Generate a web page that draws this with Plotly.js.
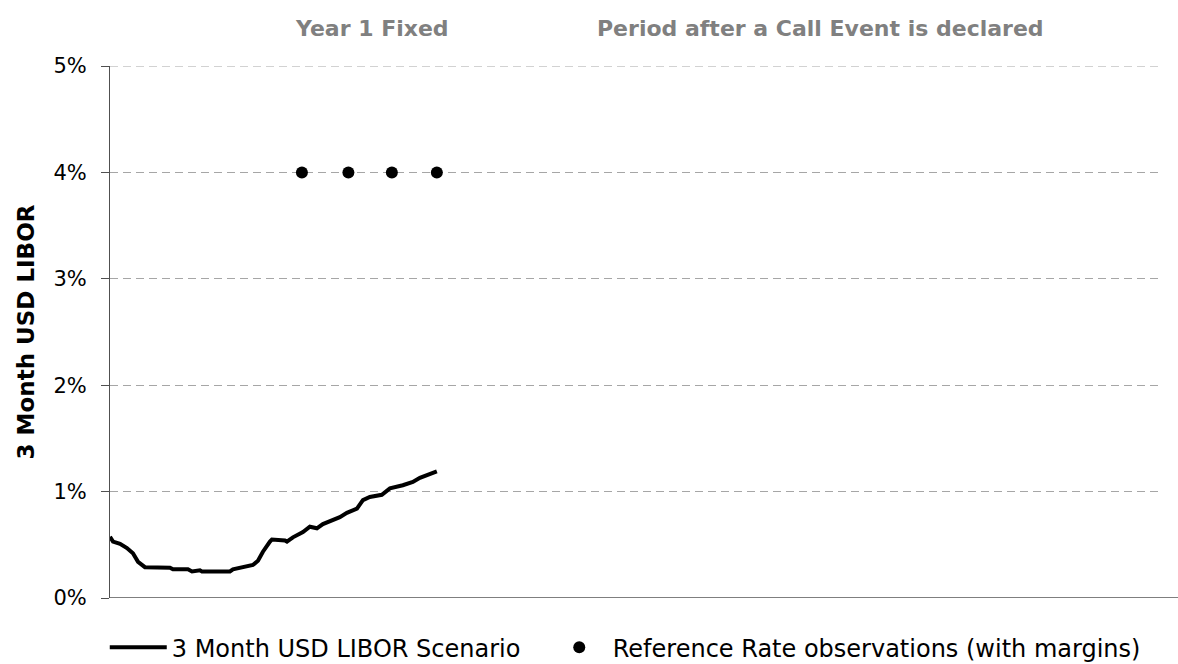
<!DOCTYPE html>
<html>
<head>
<meta charset="utf-8">
<script src="https://cdn.plot.ly/plotly-3.0.1.min.js"></script>
<style>html,body{margin:0;padding:0;background:#fff;}#chart{width:1178px;height:664px;}</style>
</head>
<body>
<div id="chart"></div>
<script>
// Scenario line: month index and 3M USD LIBOR (%)
const liborMonths = [0, 0.2, 0.67, 1.13, 1.53, 1.87, 2.33, 4.0, 4.2, 5.2, 5.47, 6.0, 6.13, 8.0, 8.2, 8.87, 9.53, 9.87, 10.2, 10.67, 10.8, 11.67, 11.8, 12.2, 12.87, 13.33, 13.8, 14.2, 14.87, 15.33, 15.8, 16.47, 16.87, 17.33, 18.13, 18.67, 19.53, 20.2, 20.67, 21.2, 21.8];
const liborValues = [0.576, 0.53, 0.51, 0.47, 0.42, 0.34, 0.29, 0.285, 0.27, 0.27, 0.25, 0.26, 0.25, 0.25, 0.27, 0.29, 0.31, 0.35, 0.435, 0.53, 0.55, 0.54, 0.53, 0.57, 0.62, 0.67, 0.655, 0.695, 0.73, 0.76, 0.80, 0.84, 0.92, 0.95, 0.97, 1.03, 1.06, 1.09, 1.13, 1.16, 1.19];

// Reference rate observations (with margins)
const obsMonths = [12.8, 15.9, 18.8, 21.8];
const obsValues = [4, 4, 4, 4];

const seriesNames = ["3 Month USD LIBOR Scenario", "Reference Rate observations (with margins)"];
const periodLabels = ["Year 1 Fixed", "Period after a Call Event is declared"];
const yTickVals = [0, 1, 2, 3, 4, 5];
const yTickText = ["0%", "1%", "2%", "3%", "4%", "5%"];
const yAxisTitle = "3 Month USD LIBOR";

const FONT = "DejaVu Sans, Liberation Sans, Arial, sans-serif";

const traces = [
  {
    x: liborMonths, y: liborValues, type: "scatter", mode: "lines",
    name: seriesNames[0], legendwidth: 369,
    line: {color: "#000000", width: 4},
    hoverinfo: "skip"
  },
  {
    x: obsMonths, y: obsValues, type: "scatter", mode: "markers",
    name: seriesNames[1], legendwidth: 540,
    marker: {color: "#000000", size: 12, symbol: "circle"},
    hoverinfo: "skip"
  }
];

const layout = {
  width: 1178, height: 664,
  paper_bgcolor: "#ffffff", plot_bgcolor: "#ffffff",
  margin: {l: 110, r: 20, t: 66, b: 66, autoexpand: false},
  font: {family: FONT, color: "#000000", size: 21},
  showlegend: true,
  xaxis: {
    range: [0, 69.9], showticklabels: false, ticks: "", showgrid: false,
    zeroline: false, showline: false, fixedrange: true
  },
  yaxis: {
    range: [0, 5], tickmode: "array", tickvals: yTickVals, ticktext: yTickText,
    ticks: "outside", ticklen: 8, tickcolor: "#505050", tickwidth: 1,
    ticklabelstandoff: 10,
    showline: true, linecolor: "#505050", linewidth: 1,
    showgrid: true, gridcolor: "#a6a6a6", gridwidth: 1, griddash: "8px,5px",
    zeroline: false,
    tickfont: {family: FONT, size: 21, color: "#000000"},
    title: {text: "<b>" + yAxisTitle + "</b>", font: {family: FONT, size: 23, color: "#000000"}, standoff: 12},
    fixedrange: true
  },
  legend: {
    orientation: "h", x: -0.005, xanchor: "left", y: -0.051, yanchor: "top",
    font: {family: FONT, size: 24, color: "#000000"},
    itemwidth: 57,
    bgcolor: "rgba(0,0,0,0)", borderwidth: 0
  },
  shapes: [
    {type: "line", xref: "paper", yref: "y", x0: 0, x1: 1, y0: 5, y1: 5,
     line: {color: "#a6a6a6", width: 1, dash: "8px,5px"}},
    {type: "line", xref: "paper", yref: "y", x0: 0, x1: 1.0191, y0: 0, y1: 0,
     line: {color: "#7f7f7f", width: 2}}
  ],
  annotations: [
    {xref: "paper", yref: "paper", x: 0.25, y: 1, yshift: 38, xanchor: "center", yanchor: "middle",
     text: "<b>" + periodLabels[0] + "</b>", showarrow: false,
     font: {family: FONT, size: 22, color: "#808080"}},
    {xref: "paper", yref: "paper", x: 0.6775, y: 1, yshift: 38, xanchor: "center", yanchor: "middle",
     text: "<b>" + periodLabels[1] + "</b>", showarrow: false,
     font: {family: FONT, size: 22, color: "#808080"}}
  ]
};

Plotly.newPlot("chart", traces, layout, {displayModeBar: false, staticPlot: true});
</script>
</body>
</html>
